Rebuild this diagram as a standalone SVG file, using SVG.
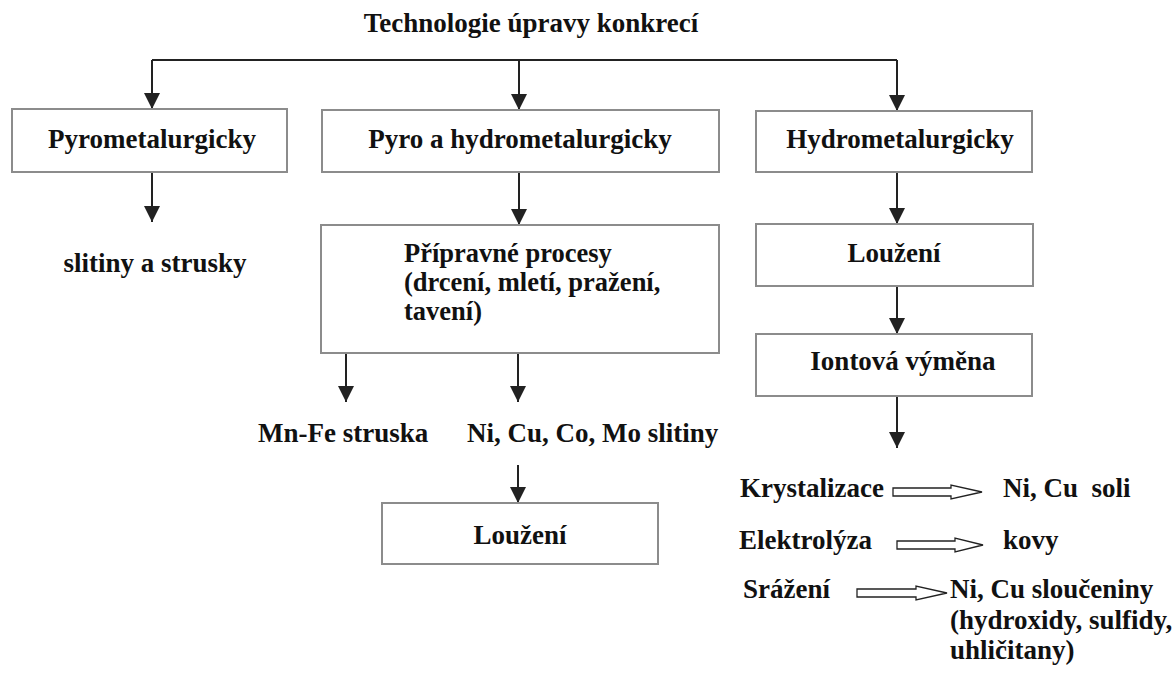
<svg xmlns="http://www.w3.org/2000/svg" width="1175" height="673" viewBox="0 0 1175 673">
<style>
.box{fill:#fff;stroke:#8c8c8c;stroke-width:2}
.t{font-family:'Liberation Serif','Times New Roman','DejaVu Serif',serif;font-weight:bold;font-size:27px;fill:#111}
.m{text-anchor:middle}
.c{fill:none;stroke:#222;stroke-width:2}
.h{fill:#fff;stroke:#222;stroke-width:1.3;stroke-linejoin:miter}
</style>
<defs>
<marker id="ah" markerUnits="userSpaceOnUse" markerWidth="16" markerHeight="16" refX="16" refY="8" orient="auto">
<path d="M0,0 L16,8 L0,16 z" fill="#222"/>
</marker>
</defs>
<rect width="1175" height="673" fill="#fff"/>
<g id="title"><text class="t m" x="531" y="32">Technologie úpravy konkrecí</text></g>
<g id="connectors">
<path class="c" d="M152,60 H897"/>
<path class="c" d="M152,60 V109" marker-end="url(#ah)"/>
<path class="c" d="M519,60 V110" marker-end="url(#ah)"/>
<path class="c" d="M897,60 V111" marker-end="url(#ah)"/>
<path class="c" d="M152,172 V222" marker-end="url(#ah)"/>
<path class="c" d="M519,172 V225" marker-end="url(#ah)"/>
<path class="c" d="M346,353 V402" marker-end="url(#ah)"/>
<path class="c" d="M518,353 V402" marker-end="url(#ah)"/>
<path class="c" d="M518,465 V503" marker-end="url(#ah)"/>
<path class="c" d="M897,172 V224" marker-end="url(#ah)"/>
<path class="c" d="M897,286 V334" marker-end="url(#ah)"/>
<path class="c" d="M897,396 V448" marker-end="url(#ah)"/>
<polygon class="h" points="893,488 951,488 951,485 982,492 951,499 951,496 893,496"/>
<polygon class="h" points="897,541 955,541 955,538 983,545 955,552 955,549 897,549"/>
<polygon class="h" points="857,589 916,589 916,586 947,593 916,600 916,597 857,597"/>
</g>
<g id="pyro"><rect class="box" x="12" y="109" width="275" height="63"/><text class="t m" x="152" y="148">Pyrometalurgicky</text></g>
<g id="pyrohydro"><rect class="box" x="322" y="110" width="397" height="62"/><text class="t m" x="520" y="148">Pyro a hydrometalurgicky</text></g>
<g id="hydro"><rect class="box" x="756" y="111" width="276" height="61"/><text class="t m" x="900" y="148">Hydrometalurgicky</text></g>
<g id="slitiny"><text class="t m" x="155" y="272">slitiny a strusky</text></g>
<g id="priprava"><rect class="box" x="321" y="225" width="398" height="128"/>
<text class="t" x="404" y="262" style="font-size:26.5px">Přípravné procesy<tspan x="404" dy="29">(drcení, mletí, pražení,</tspan><tspan x="404" dy="29">tavení)</tspan></text></g>
<g id="mnfe"><text class="t" x="258" y="442">Mn-Fe struska</text></g>
<g id="nicu"><text class="t" x="467" y="442">Ni, Cu, Co, Mo slitiny</text></g>
<g id="louzeni2"><rect class="box" x="382" y="503" width="276" height="61"/><text class="t m" x="520" y="544">Loužení</text></g>
<g id="louzeni1"><rect class="box" x="756" y="224" width="277" height="62"/><text class="t m" x="894" y="262">Loužení</text></g>
<g id="iontova"><rect class="box" x="756" y="334" width="276" height="62"/><text class="t m" x="903" y="370">Iontová výměna</text></g>
<g id="krystalizace"><text class="t" x="740" y="497">Krystalizace</text></g>
<g id="soli"><text class="t" x="1003" y="497" xml:space="preserve">Ni, Cu  soli</text></g>
<g id="elektrolyza"><text class="t" x="739" y="549">Elektrolýza</text></g>
<g id="kovy"><text class="t" x="1003" y="549">kovy</text></g>
<g id="srazeni"><text class="t" x="743" y="598">Srážení</text></g>
<g id="slouceniny"><text class="t" x="950" y="598">Ni, Cu sloučeniny<tspan x="950" dy="31">(hydroxidy, sulfidy,</tspan><tspan x="950" dy="30">uhličitany)</tspan></text></g>
</svg>
